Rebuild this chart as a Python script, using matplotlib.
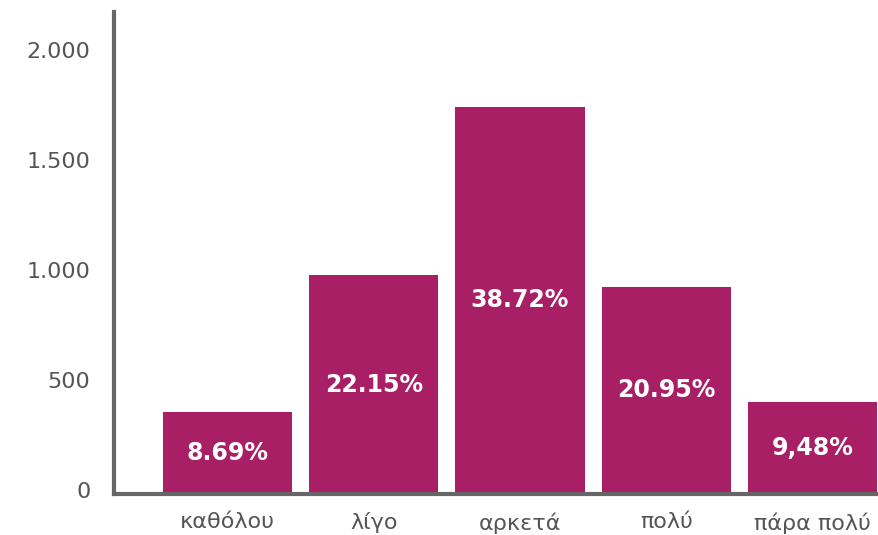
import numpy as np
import matplotlib.pyplot as plt
import matplotlib.transforms as mtransforms

plt.rcParams['font.family'] = ['DejaVu Sans']

categories = ['καθόλου', 'λίγο', 'αρκετά', 'πολύ', 'πάρα πολύ']
counts = [373, 995, 1759, 941, 418]
pct_labels = ['8.69%', '22.15%', '38.72%', '20.95%', '9,48%']
yticks = [0, 500, 1000, 1500, 2000]

bar_color = '#A81F65'
grey = '#555555'

fig = plt.figure(figsize=(8.79, 5.35), dpi=100)
ax = fig.add_axes([114/879, 41/535, 1 - 114/879, (494-12)/535])

x = np.arange(len(categories))
bars = ax.bar(x, counts, width=0.884, color=bar_color)

for b, lab in zip(bars, pct_labels):
    ax.text(b.get_x() + b.get_width()/2, b.get_height()/2, lab,
            ha='center', va='center', color='white', fontsize=17, fontweight='bold')

ax.set_xlim(-0.777, 4.455)
ax.set_ylim(0, 2190)
ax.set_xticks(x)
ax.set_xticklabels(categories, fontsize=16, color=grey)
ax.set_yticks(yticks)
ax.set_yticklabels([f'{v:,}'.replace(',', '.') for v in yticks], fontsize=16, color=grey)
ax.tick_params(axis='x', length=0, pad=13)
ax.tick_params(axis='y', length=0, pad=17)

# y labels sit a little above their gridline in the original
shift = mtransforms.ScaledTranslation(0, 4/100, fig.dpi_scale_trans)
for t in ax.get_yticklabels():
    t.set_transform(t.get_transform() + shift)

for s in ['top', 'right']:
    ax.spines[s].set_visible(False)
for s in ['left', 'bottom']:
    ax.spines[s].set_color('#666666')
    ax.spines[s].set_linewidth(3)

fig.savefig('out.png', dpi=100)
